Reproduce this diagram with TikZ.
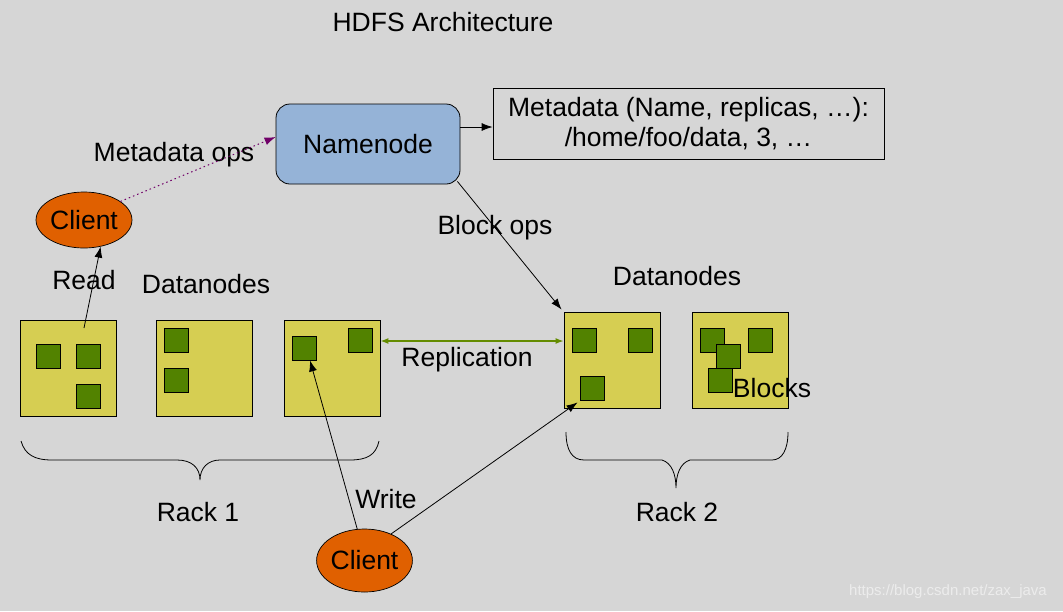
\documentclass[tikz,border=0pt]{standalone}
\usepackage{fontspec}
\setmainfont{Liberation Sans}
\usetikzlibrary{shapes.geometric,arrows.meta,calc}
\definecolor{bg}{RGB}{214,214,214}
\definecolor{nnblue}{RGB}{149,179,215}
\definecolor{clorange}{RGB}{224,96,0}
\definecolor{dnyellow}{RGB}{214,206,82}
\definecolor{blkgreen}{RGB}{82,130,0}
\definecolor{mdpurple}{RGB}{112,0,104}
\definecolor{repgreen}{RGB}{100,140,0}
\definecolor{wm}{RGB}{236,236,236}
\tikzset{
  lbl/.style={inner sep=0pt,font=\fontsize{26.5}{30}\selectfont},
  dn/.style={draw=black,line width=0.9pt,fill=dnyellow,minimum width=96pt,minimum height=96pt,inner sep=0pt},
  blk/.style={draw=black,line width=0.9pt,fill=blkgreen,minimum width=24pt,minimum height=24pt,inner sep=0pt},
  client/.style={ellipse,draw=black,line width=0.7pt,fill=clorange,minimum width=96pt,inner sep=0pt,font=\fontsize{26.5}{30}\selectfont},
  arr/.style={draw=black,line width=0.8pt,-{Latex[length=11pt,width=8pt]}},
  mdarr/.style={draw=mdpurple,line width=1pt,dash pattern=on 1.5pt off 3pt,-{Latex[length=11pt,width=8pt]}},
  rep/.style={draw=repgreen,line width=1.2pt,{Latex[length=8pt,width=6pt]}-{Latex[length=8pt,width=6pt]}},
  brace/.style={draw=black,line width=0.8pt},
}
\begin{document}
\begin{tikzpicture}[x=1pt,y=-1pt]
\fill[bg] (0,0) rectangle (1063,611);
\useasboundingbox (0,0) rectangle (1063,611);

\node[lbl] (title) at (443,22) {HDFS Architecture};

% Namenode and metadata
\node[draw=black,line width=0.8pt,fill=nnblue,rounded corners=14pt,minimum width=184pt,minimum height=80pt,inner sep=0pt,font=\fontsize{26.5}{30}\selectfont] (nn) at (368,144) {Namenode};
\node[draw=black,line width=0.8pt,minimum width=391pt,minimum height=71pt,inner sep=0pt,align=center,font=\fontsize{26.5}{30}\selectfont] (meta) at (688.5,123.5) {Metadata (Name, replicas, …):\\/home/foo/data, 3, …};

% Clients
\node[client,minimum height=56pt] (c1) at (84,220) {Client};
\node[client,minimum width=95pt,minimum height=63pt] (c2) at (364.5,560.5) {Client};

% Datanodes rack 1
\node[dn] (d1) at (68,368) {};
\node[dn] (d2) at (204,368) {};
\node[dn] (d3) at (332,368) {};
% Datanodes rack 2
\node[dn] (d4) at (612,360) {};
\node[dn] (d5) at (740,360) {};

% Blocks
\node[blk] (b1a) at (48,356) {};
\node[blk] (b1b) at (88,356) {};
\node[blk] (b1c) at (88,396) {};
\node[blk] (b2a) at (176,340) {};
\node[blk] (b2b) at (176,380) {};
\node[blk] (b3a) at (304,348) {};
\node[blk] (b3b) at (360,340) {};
\node[blk] (b4a) at (584,340) {};
\node[blk] (b4b) at (640,340) {};
\node[blk] (b4c) at (592,388) {};
\node[blk] (b5a) at (712,340) {};
\node[blk] (b5b) at (760,340) {};
\node[blk] (b5c) at (728,356) {};
\node[blk] (b5d) at (720,380) {};

% Labels
\node[lbl] (lmo) at (174,155) {Metadata ops};
\node[lbl] (lread) at (84,280) {Read};
\node[lbl] (ldn1) at (206,284) {Datanodes};
\node[lbl] (lbo) at (495,228) {Block ops};
\node[lbl] (ldn2) at (677,276) {Datanodes};
\node[lbl] (lrep) at (467,360) {Replication};
\node[lbl] (lblocks) at (772,388) {Blocks};
\node[lbl] (lwrite) at (386,499) {Write};
\node[lbl] (lr1) at (198,512) {Rack 1};
\node[lbl] (lr2) at (677,512) {Rack 2};
\node[inner sep=0pt,text=wm,font=\fontsize{15}{17}\selectfont] (wmk) at (948,592) {https://blog.csdn.net/zax\_java};

% Connectors
\draw[arr] ([yshift=17pt]nn.east) -- ([yshift=17pt]nn.east -| meta.west);
\draw[mdarr] (c1.27) -- ([yshift=7pt]nn.west);
\coordinate (rd) at (84,328);
\draw[arr] (rd) -- (c1.-58);
\draw[arr] ([xshift=-3pt,yshift=3pt]nn.south east) -- ([xshift=-2pt,yshift=2pt]d4.north west);
\draw[rep] ([yshift=27pt]d3.east) -- ([yshift=27pt]d3.east -| d4.west);
\draw[arr] (c2.103) -- ([xshift=6pt]b3a.south);
\draw[arr] (c2.45) -- ([xshift=-2pt,yshift=-2pt]b4c.south west);

% Braces
\draw[brace] (21,441) .. controls (25,455) and (35,460) .. (52,460) -- (177,460)
  .. controls (192,460) and (200,468) .. (200,480)
  .. controls (200,468) and (208,460) .. (220,460) -- (350,460)
  .. controls (367,460) and (376,455) .. (379,441);
\draw[brace] (566,432) .. controls (566,450) and (572,460) .. (584,460) -- (662,460)
  .. controls (672,463) and (676,475) .. (676,488)
  .. controls (676,475) and (680,463) .. (690,460) -- (772,460)
  .. controls (782,460) and (788,450) .. (788,432);
\end{tikzpicture}
\end{document}
